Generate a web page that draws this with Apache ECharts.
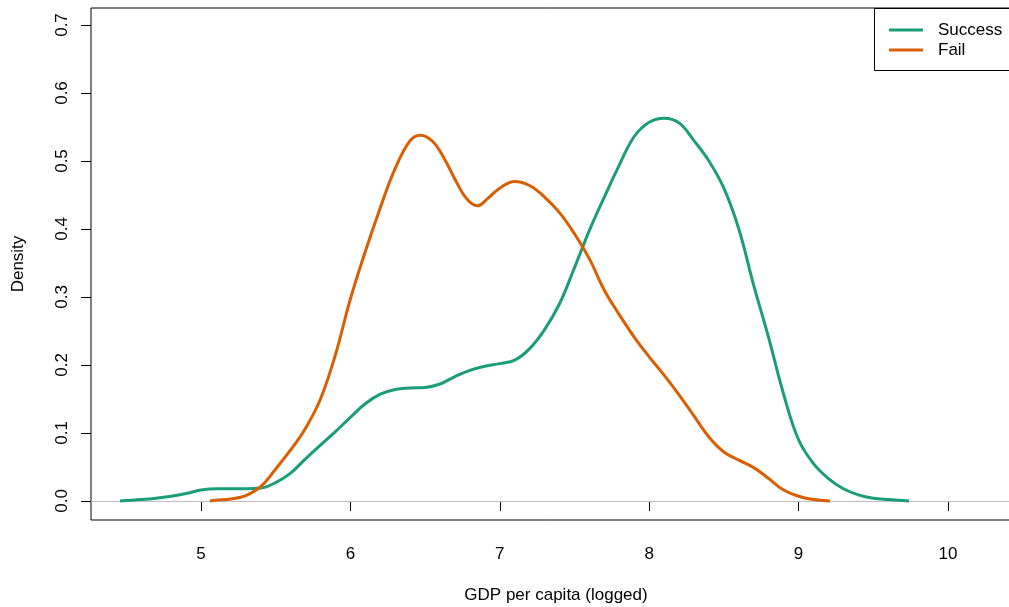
<!DOCTYPE html>
<html>
<head>
<meta charset="utf-8">
<script src="https://cdn.jsdelivr.net/npm/echarts@6/dist/echarts.min.js"></script>
<style>html,body{margin:0;padding:0;background:#fff}#c{width:1009px;height:607px}</style>
</head>
<body>
<div id="c"></div>
<script>
const seriesNames = ['Success', 'Fail'];
const xTicks = [5, 6, 7, 8, 9, 10];
const yTicks = [0, 0.1, 0.2, 0.3, 0.4, 0.5, 0.6, 0.7];
const successX = [4.458,4.6,4.7,4.8,4.9,5.0,5.1,5.2,5.3,5.4,5.5,5.6,5.7,5.8,5.9,6.0,6.1,6.2,6.3,6.4,6.5,6.6,6.7,6.8,6.9,7.0,7.1,7.2,7.3,7.4,7.5,7.6,7.7,7.8,7.9,8.0,8.1,8.2,8.3,8.4,8.5,8.6,8.7,8.8,8.9,9.0,9.1,9.2,9.3,9.4,9.5,9.6,9.74];
const successY = [0.000,0.002,0.004,0.007,0.011,0.016,0.018,0.018,0.018,0.019,0.027,0.041,0.062,0.082,0.102,0.123,0.143,0.157,0.164,0.166,0.167,0.172,0.183,0.192,0.198,0.202,0.207,0.224,0.252,0.290,0.343,0.398,0.447,0.494,0.536,0.557,0.563,0.556,0.530,0.500,0.460,0.400,0.317,0.240,0.157,0.090,0.055,0.033,0.018,0.009,0.004,0.002,0.000];
const failX = [5.06,5.1,5.2,5.3,5.4,5.5,5.6,5.7,5.8,5.9,6.0,6.1,6.2,6.3,6.4,6.47,6.55,6.63,6.71,6.78,6.85,6.92,7.0,7.1,7.2,7.3,7.4,7.5,7.6,7.7,7.8,7.9,8.0,8.1,8.2,8.3,8.4,8.5,8.6,8.7,8.8,8.9,9.0,9.1,9.21];
const failY = [0.000,0.001,0.003,0.008,0.021,0.047,0.075,0.107,0.150,0.215,0.297,0.367,0.431,0.489,0.530,0.538,0.529,0.503,0.469,0.444,0.434,0.445,0.460,0.470,0.464,0.447,0.424,0.393,0.356,0.310,0.274,0.241,0.212,0.185,0.156,0.125,0.094,0.072,0.060,0.049,0.033,0.016,0.007,0.002,0.000];

const zip = (xs, ys) => xs.map((x, i) => [x, ys[i]]);
const font = 'Liberation Sans, Arial, sans-serif';
const chart = echarts.init(document.getElementById('c'), null, {renderer: 'canvas'});
chart.setOption({
  animation: false,
  backgroundColor: '#fff',
  grid: {left: 91, top: 8, width: 930, height: 512, outerBoundsMode: 'none', containLabel: false, show: true, borderColor: '#000', borderWidth: 1, backgroundColor: 'transparent'},
  xAxis: {
    type: 'value', min: 4.264, max: 4.264 + 930 / 149.4,
    name: 'GDP per capita (logged)', nameLocation: 'middle', nameGap: 67,
    nameTextStyle: {fontFamily: font, fontSize: 17, color: '#000'},
    axisLine: {show: false},
    axisTick: {show: true, length: 10, lineStyle: {color: '#000'}, customValues: xTicks},
    axisLabel: {show: true, margin: 26, fontFamily: font, fontSize: 17, color: '#000', customValues: xTicks, formatter: v => String(v)},
    splitLine: {show: false}
  },
  yAxis: {
    type: 'value', min: -0.028, max: 0.725,
    name: 'Density', nameLocation: 'middle', nameGap: 64, nameRotate: 90,
    nameTextStyle: {fontFamily: font, fontSize: 17, color: '#000'},
    axisLine: {show: false},
    axisTick: {show: true, length: 10, lineStyle: {color: '#000'}, customValues: yTicks},
    axisLabel: {show: true, rotate: 90, margin: 20, fontFamily: font, fontSize: 17, color: '#000', customValues: yTicks, formatter: v => v.toFixed(1)},
    splitLine: {show: false}
  },
  legend: {
    orient: 'vertical', left: 889, top: 20, padding: 0, itemGap: 0,
    itemWidth: 34, itemHeight: 3, icon: 'rect',
    textStyle: {fontFamily: font, fontSize: 17, color: '#000', lineHeight: 20, padding: [0, 0, 0, 10]},
    data: seriesNames
  },
  graphic: [{type: 'rect', shape: {x: 874.5, y: 8.5, width: 200, height: 62}, style: {fill: 'transparent', stroke: '#000', lineWidth: 1}, z: 100}],
  series: [
    {name: seriesNames[0], type: 'line', data: zip(successX, successY), smooth: 0.4, showSymbol: false, symbol: 'none',
     lineStyle: {color: '#1B9E77', width: 3}, itemStyle: {color: '#1B9E77'}, z: 3,
     markLine: {silent: true, symbol: 'none', label: {show: false}, lineStyle: {color: '#bebebe', width: 1, type: 'solid'}, data: [{yAxis: 0}], z: 1}},
    {name: seriesNames[1], type: 'line', data: zip(failX, failY), smooth: 0.4, showSymbol: false, symbol: 'none',
     lineStyle: {color: '#D95F02', width: 3}, itemStyle: {color: '#D95F02'}, z: 4}
  ]
});
</script>
</body>
</html>
